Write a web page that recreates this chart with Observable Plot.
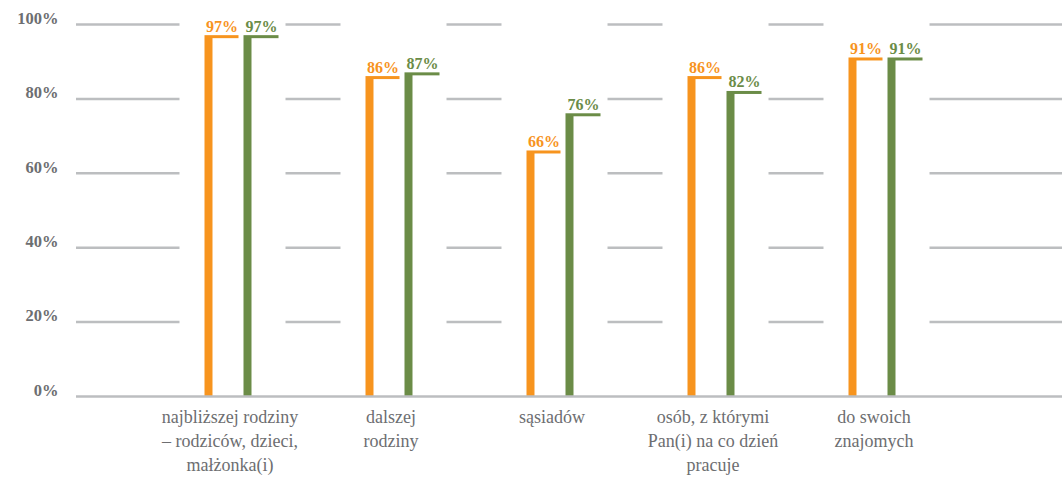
<!DOCTYPE html>
<html>
<head>
<meta charset="utf-8">
<script src="https://cdn.jsdelivr.net/npm/d3@7"></script>
<script src="https://cdn.jsdelivr.net/npm/@observablehq/plot@0.6"></script>
<style>
  html, body { margin: 0; padding: 0; background: #fff; }
</style>
</head>
<body>
<div id="chart"></div>
<script>
const categories = [
  "najbliższej rodziny\n– rodziców, dzieci,\nmałżonka(i)",
  "dalszej\nrodziny",
  "sąsiadów",
  "osób, z którymi\nPan(i) na co dzień\npracuje",
  "do swoich\nznajomych"
];
const seriesA = [97, 86, 66, 86, 91]; // orange
const seriesB = [97, 87, 76, 82, 91]; // green
const yTicks = [0, 20, 40, 60, 80, 100];

const ORANGE = "#f7941e";
const GREEN = "#6b8c47";
const GRID = "#bcbec0";
const TEXT = "#6d6e71";
const FONT = "'Liberation Serif', 'DejaVu Serif', serif";

const dataA = categories.map((c, i) => ({cat: c, v: seriesA[i]}));
const dataB = categories.map((c, i) => ({cat: c, v: seriesB[i]}));

const BAND = (966 - 161) / categories.length; // band step in px
const half = BAND / 2;
// bar extents relative to band center
const aL = -37, aR = -3, bL = 2, bR = 37, wL = -62, wR = 44;
const thick = 8, topW = 3;

const chart = Plot.plot({
  width: 1062,
  height: 477,
  marginLeft: 76,
  marginRight: 0,
  marginTop: 24,
  marginBottom: 81,
  style: {fontFamily: FONT, background: "#fff"},
  x: {type: "band", domain: categories, range: [161, 966], padding: 0, axis: null},
  y: {domain: [0, 100], axis: null},
  marks: [
    Plot.ruleY(yTicks.filter(d => d > 0), {stroke: GRID, strokeWidth: 2.5}),
    // white cover region per category
    Plot.barY(categories, {x: d => d, y1: 0, y2: 100, fill: "white",
      insetLeft: half + wL, insetRight: half - wR, insetTop: -3}),
    // orange bars (L-shape)
    Plot.barY(dataA, {x: "cat", y: "v", fill: ORANGE, insetLeft: half + aL, insetRight: half - aR}),
    Plot.barY(dataA, {x: "cat", y: "v", fill: "white", insetLeft: half + aL + thick, insetRight: half - aR - 2, insetTop: topW}),
    // green bars (L-shape)
    Plot.barY(dataB, {x: "cat", y: "v", fill: GREEN, insetLeft: half + bL, insetRight: half - bR}),
    Plot.barY(dataB, {x: "cat", y: "v", fill: "white", insetLeft: half + bL + thick, insetRight: half - bR - 2, insetTop: topW}),
    // baseline
    Plot.ruleY([0], {stroke: GRID, strokeWidth: 2.5}),
    // value labels
    Plot.text(dataA, {x: "cat", y: "v", text: d => `${d.v}%`, dx: (aL + aR) / 2, dy: -4,
      lineAnchor: "bottom", fill: ORANGE, fontWeight: "bold", fontSize: 16}),
    Plot.text(dataB, {x: "cat", y: "v", text: d => `${d.v}%`, dx: (bL + bR) / 2, dy: -4,
      lineAnchor: "bottom", fill: GREEN, fontWeight: "bold", fontSize: 16}),
    // y tick labels
    Plot.text(yTicks, {y: d => d, text: d => `${d}%`, frameAnchor: "left", dx: -18, dy: -6,
      textAnchor: "end", fill: TEXT, fontWeight: "bold", fontSize: 16.5}),
    // category labels
    Plot.text(categories, {x: d => d, y: 0, text: d => d, dx: -12, dy: 10, lineAnchor: "top",
      lineHeight: 1.32, fill: TEXT, fontSize: 18})
  ]
});
document.getElementById("chart").appendChild(chart);
</script>
</body>
</html>
